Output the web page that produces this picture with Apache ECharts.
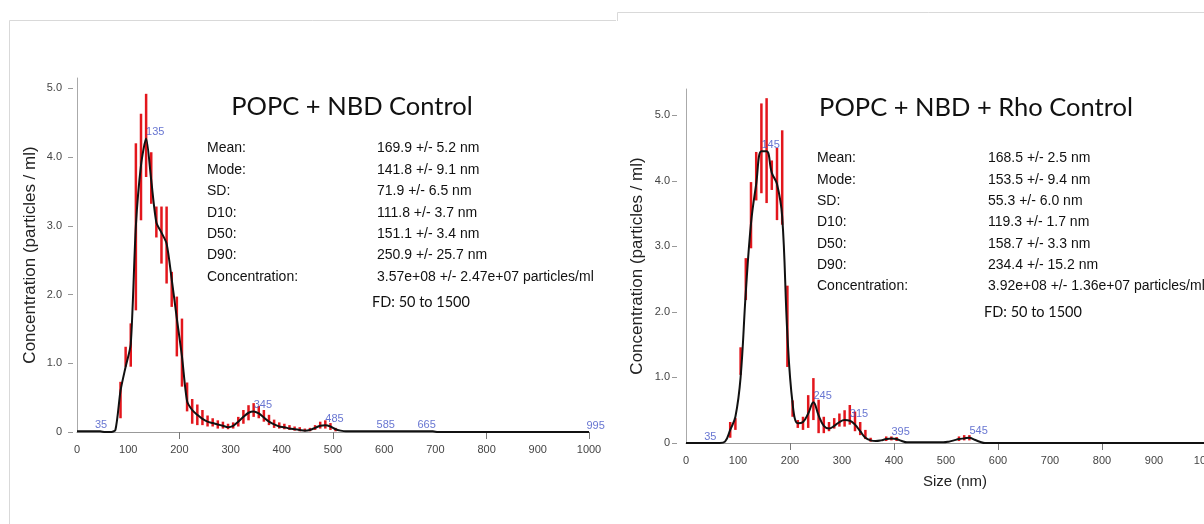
<!DOCTYPE html>
<html>
<head>
<meta charset="utf-8">
<script src="https://cdn.jsdelivr.net/npm/echarts@6/dist/echarts.min.js"></script>
<style>
html,body{margin:0;padding:0;background:#fff;overflow:hidden;width:1204px;height:524px;}
#chart{width:1240px;height:524px;}
</style>
</head>
<body>
<div id="chart"></div>
<script>
// ---------- DATA ----------
const sizes = [0,
  5,15,25,35,45,55,65,75,85,95,
  105,115,125,135,145,155,165,175,185,195,
  205,215,225,235,245,255,265,275,285,295,
  305,315,325,335,345,355,365,375,385,395,
  405,415,425,435,445,455,465,475,485,495,
  505,515,525,535,545,555,565,575,585,595,
  605,615,625,635,645,655,665,675,685,695,
  705,715,725,735,745,755,765,775,785,795,
  805,815,825,835,845,855,865,875,885,895,
  905,915,925,935,945,955,965,975,985,995,
  1000];

const leftCurve = [0.01,
  0.01,0.01,0.01,0.01,0.01,0.00,0.00,0.03,0.60,0.95,
  1.28,3.00,3.88,4.27,3.66,3.05,2.90,2.74,2.22,1.65,
  1.10,0.45,0.32,0.25,0.19,0.15,0.13,0.11,0.09,0.07,
  0.09,0.15,0.22,0.28,0.30,0.27,0.21,0.15,0.11,0.08,
  0.07,0.05,0.04,0.03,0.02,0.03,0.06,0.09,0.10,0.08,
  0.04,0.02,0.01,0.01,0.01,0.01,0.01,0.01,0.01,0.01,
  0.01,0.01,0.01,0.01,0.01,0.01,0.01,0.01,0.01,0.01,
  0,0,0,0,0,0,0,0,0,0,
  0,0,0,0,0,0,0,0,0,0,
  0,0,0,0,0,0,0,0,0,0,
  0];

const rightCurve = [0.00,
  0.00,0.00,0.00,0.00,0.00,0.00,0.00,0.02,0.20,0.40,
  1.00,2.30,3.35,3.95,4.45,4.45,4.12,3.95,3.45,1.65,
  0.60,0.30,0.32,0.45,0.62,0.42,0.26,0.22,0.26,0.32,
  0.35,0.34,0.28,0.18,0.08,0.04,0.03,0.04,0.06,0.07,
  0.06,0.03,0.01,0.01,0.01,0.01,0.01,0.01,0.01,0.01,
  0.02,0.04,0.06,0.07,0.08,0.05,0.02,0.00,0.00,0.00,
  0,0,0,0,0,0,0,0,0,0,
  0,0,0,0,0,0,0,0,0,0,
  0,0,0,0,0,0,0,0,0,0,
  0,0,0,0,0,0,0,0,0,0,
  0];

const leftErrSizes = [85,95,105,115,125,135,145,155,165,175,185,195,205,215,225,235,245,255,265,275,285,295,305,315,325,335,345,355,365,375,385,395,405,415,425,435,445,455,465,475,485,495,505];
const leftErrLow  = [0.20,0.95,0.95,1.77,3.08,3.71,3.32,2.83,2.45,2.16,1.82,1.10,0.66,0.30,0.12,0.10,0.10,0.08,0.08,0.05,0.05,0.04,0.05,0.08,0.12,0.17,0.22,0.20,0.15,0.10,0.06,0.05,0.04,0.03,0.02,0.01,0.01,0.01,0.03,0.05,0.05,0.03,0.01];
const leftErrHigh = [0.73,1.24,1.58,4.20,4.63,4.92,4.07,3.28,3.28,3.28,2.33,1.97,1.65,0.72,0.48,0.40,0.32,0.24,0.20,0.17,0.15,0.12,0.14,0.22,0.32,0.39,0.42,0.38,0.32,0.25,0.18,0.14,0.12,0.10,0.08,0.07,0.05,0.06,0.10,0.15,0.17,0.13,0.06];

const rightErrSizes = [85,95,105,115,125,135,145,155,165,175,185,195,205,215,225,235,245,255,265,275,285,295,305,315,325,335,345,355,385,395,405,525,535,545];
const rightErrLow  = [0.08,0.20,1.04,2.18,2.97,3.70,3.81,3.66,3.86,3.40,3.33,1.16,0.40,0.23,0.20,0.23,0.35,0.15,0.15,0.18,0.22,0.25,0.25,0.28,0.18,0.12,0.06,0.02,0.03,0.04,0.03,0.03,0.04,0.04];
const rightErrHigh = [0.32,0.38,1.46,2.82,3.98,4.44,5.18,5.26,4.31,4.50,4.77,2.40,0.65,0.35,0.40,0.73,0.99,0.66,0.40,0.32,0.38,0.45,0.50,0.58,0.48,0.32,0.20,0.08,0.10,0.10,0.09,0.10,0.12,0.12];

const leftPeaks  = [35,135,345,485,585,665,995];
const rightPeaks = [35,145,245,315,395,545];

const xTickLabels = [0,100,200,300,400,500,600,700,800,900,1000];
const yTickValues = [0,1,2,3,4,5];

const leftTitle  = 'POPC + NBD Control';
const rightTitle = 'POPC + NBD + Rho Control';
const statLabels = ['Mean:','Mode:','SD:','D10:','D50:','D90:','Concentration:'];
const leftStats  = ['169.9 +/- 5.2 nm','141.8 +/- 9.1 nm','71.9 +/- 6.5 nm','111.8 +/- 3.7 nm','151.1 +/- 3.4 nm','250.9 +/- 25.7 nm','3.57e+08 +/- 2.47e+07 particles/ml'];
const rightStats = ['168.5 +/- 2.5 nm','153.5 +/- 9.4 nm','55.3 +/- 6.0 nm','119.3 +/- 1.7 nm','158.7 +/- 3.3 nm','234.4 +/- 15.2 nm','3.92e+08 +/- 1.36e+07 particles/ml'];
const fdText = 'FD: 50 to 1500';
const yAxisTitle = 'Concentration (particles / ml)';
const xAxisTitle = 'Size (nm)';

// ---------- BUILD ----------
const AX_FONT = '"Liberation Sans", Arial, sans-serif';
const TITLE_FONT = 'Lato, "Open Sans", sans-serif';

function curvePairs(curve){ return sizes.map((s,i)=>[s, curve[i]]); }
function errTriples(xs, lo, hi){ return xs.map((s,i)=>[s, lo[i], hi[i]]); }
function peakPoints(peaks, curve){
  return peaks.map(p => {
    let best = 0, bd = 1e9;
    sizes.forEach((s,i)=>{ const d = Math.abs(s-p); if (d < bd){ bd = d; best = i; } });
    return [p, curve[best]];
  });
}

function renderErr(params, api){
  const x = api.value(0), lo = api.value(1), hi = api.value(2);
  const p1 = api.coord([x, lo]);
  const p2 = api.coord([x, hi]);
  return {type:'line', shape:{x1:p1[0], y1:p1[1], x2:p2[0], y2:p2[1]},
          style:{stroke:'#e3161c', lineWidth:2.5}};
}

function xAxisCfg(gridIndex, ticks, margin, withName){
  const c = {
    type:'value', gridIndex, min:0, max:1000, interval:100,
    axisLine:{show:true, lineStyle:{color:'#999', width:1}},
    axisTick:{show:true, customValues:ticks, length:7, lineStyle:{color:'#777'}},
    axisLabel:{color:'#444', fontSize:11, fontFamily:AX_FONT, margin, customValues:xTickLabels,
               formatter: v => String(v)},
    splitLine:{show:false}
  };
  if (withName){
    c.name = xAxisTitle; c.nameLocation = 'middle'; c.nameGap = 31;
    c.nameTextStyle = {color:'#222', fontSize:15, fontFamily:AX_FONT, padding:[0,0,0,18]};
  }
  return c;
}

function yAxisLine(gridIndex, max, nameGap){
  return {
    type:'value', gridIndex, min:0, max,
    axisLine:{show:true, lineStyle:{color:'#aaa', width:1}},
    axisTick:{show:false}, axisLabel:{show:false}, splitLine:{show:false},
    name: yAxisTitle, nameLocation:'middle', nameGap,
    nameTextStyle:{color:'#222', fontSize:17, fontFamily:AX_FONT}
  };
}
function yAxisTicks(gridIndex, max, offset, margin){
  return {
    type:'value', gridIndex, min:0, max, offset, position:'left',
    axisLine:{show:false},
    axisTick:{show:true, length:5, customValues:yTickValues, lineStyle:{color:'#999'}},
    axisLabel:{color:'#444', fontSize:11, fontFamily:AX_FONT, margin, customValues:yTickValues,
               formatter: v => v === 0 ? '0' : v.toFixed(1)},
    splitLine:{show:false}
  };
}

function peakSeries(xi, yi, data){
  return {
    type:'scatter', xAxisIndex:xi, yAxisIndex:yi, data, symbolSize:1,
    itemStyle:{color:'rgba(0,0,0,0)'}, z:5, silent:true,
    label:{show:true, position:'top', distance:6, align:'left', verticalAlign:'middle',
           color:'#4152c6', fontSize:11, fontFamily:AX_FONT, formatter: p => String(p.value[0])}
  };
}

const graphics = [];
// panel frames
graphics.push({type:'line', shape:{x1:9.5,y1:20.5,x2:616,y2:20.5}, style:{stroke:'#d9d9d9', lineWidth:1}});
graphics.push({type:'line', shape:{x1:9.5,y1:20.5,x2:9.5,y2:524}, style:{stroke:'#d9d9d9', lineWidth:1}});
graphics.push({type:'line', shape:{x1:617.5,y1:12.5,x2:1240,y2:12.5}, style:{stroke:'#d9d9d9', lineWidth:1}});
graphics.push({type:'line', shape:{x1:617.5,y1:12.5,x2:617.5,y2:21}, style:{stroke:'#d9d9d9', lineWidth:1}});

function addText(text, x, y, font, align){
  graphics.push({type:'text', x, y, style:{text, font, fill:'#111',
    textAlign: align || 'left', textVerticalAlign:'middle', align: align || 'left', verticalAlign:'middle'}});
}
addText(leftTitle, 352, 107, '25.5px ' + TITLE_FONT, 'center');
addText(rightTitle, 976, 108, '25.5px ' + TITLE_FONT, 'center');
statLabels.forEach((l,i)=>{
  addText(l, 207, 148.5 + 21.4*i, '14px ' + AX_FONT);
  addText(leftStats[i], 377, 148.5 + 21.4*i, '14px ' + AX_FONT);
  addText(l, 817, 158.5 + 21.3*i, '14px ' + AX_FONT);
  addText(rightStats[i], 988, 158.5 + 21.3*i, '14px ' + AX_FONT);
});
addText(fdText, 421, 302, '14.5px ' + TITLE_FONT, 'center');
addText(fdText, 1033, 312, '14.5px ' + TITLE_FONT, 'center');

const option = {
  backgroundColor:'#fff',
  animation:false,
  grid:[
    {left:77, top:78, width:512, height:354},
    {left:686, top:89, width:520, height:354}
  ],
  xAxis:[ xAxisCfg(0,[200,500,800,1000],12,false), xAxisCfg(1,[200,400,600,800,1000],12,true) ],
  yAxis:[ yAxisLine(0,5.15,38), yAxisTicks(0,5.15,4,11), yAxisLine(1,5.4,40), yAxisTicks(1,5.4,9,7) ],
  graphic: graphics,
  series:[
    {type:'custom', xAxisIndex:0, yAxisIndex:0, renderItem:renderErr, encode:{x:0, y:[1,2]},
     data: errTriples(leftErrSizes, leftErrLow, leftErrHigh), z:2, silent:true},
    {type:'line', xAxisIndex:0, yAxisIndex:0, data: curvePairs(leftCurve), showSymbol:false,
     smooth:0.25, lineStyle:{color:'#111', width:2}, z:3, silent:true},
    peakSeries(0,0, peakPoints(leftPeaks, leftCurve)),
    {type:'custom', xAxisIndex:1, yAxisIndex:2, renderItem:renderErr, encode:{x:0, y:[1,2]},
     data: errTriples(rightErrSizes, rightErrLow, rightErrHigh), z:2, silent:true},
    {type:'line', xAxisIndex:1, yAxisIndex:2, data: curvePairs(rightCurve), showSymbol:false,
     smooth:0.4, lineStyle:{color:'#111', width:2}, z:3, silent:true},
    peakSeries(1,2, peakPoints(rightPeaks, rightCurve))
  ]
};

const chart = echarts.init(document.getElementById('chart'), null, {renderer:'canvas'});
chart.setOption(option);
</script>
</body>
</html>
